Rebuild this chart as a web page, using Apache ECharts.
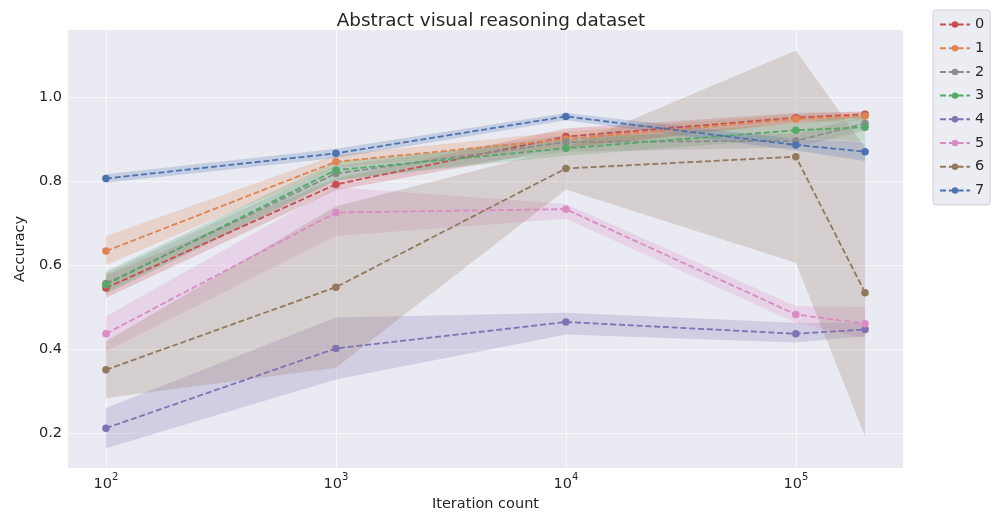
<!DOCTYPE html>
<html><head><meta charset="utf-8">
<script src="https://cdn.jsdelivr.net/npm/echarts@6/dist/echarts.min.js"></script>
<style>html,body{margin:0;padding:0;background:#fff}#chart{width:994px;height:514px}</style>
</head><body><div id="chart"></div>
<script>
// ---- data ----
const iterations = [100, 1000, 10000, 100000, 200000];
const seriesNames = ['0', '1', '2', '3', '4', '5', '6', '7'];
const colors = ['#C44E52', '#DD8452', '#8C8C8C', '#55A868', '#8172B3', '#DA8BC3', '#937860', '#4C72B0'];
const accMean = [
  [0.545, 0.792, 0.906, 0.951, 0.959],
  [0.633, 0.846, 0.900, 0.948, 0.955],
  [0.556, 0.818, 0.893, 0.896, 0.937],
  [0.553, 0.826, 0.878, 0.921, 0.928],
  [0.211, 0.401, 0.464, 0.436, 0.446],
  [0.436, 0.725, 0.733, 0.482, 0.460],
  [0.350, 0.547, 0.830, 0.858, 0.534],
  [0.806, 0.866, 0.954, 0.886, 0.870]
];
const ciLow = [
  [0.522, 0.778, 0.878, 0.940, 0.950],
  [0.600, 0.832, 0.880, 0.938, 0.945],
  [0.530, 0.800, 0.870, 0.880, 0.920],
  [0.534, 0.803, 0.860, 0.902, 0.895],
  [0.163, 0.327, 0.434, 0.415, 0.430],
  [0.394, 0.669, 0.710, 0.462, 0.425],
  [0.283, 0.355, 0.780, 0.605, 0.191],
  [0.796, 0.855, 0.945, 0.873, 0.848]
];
const ciHigh = [
  [0.575, 0.806, 0.925, 0.962, 0.966],
  [0.669, 0.862, 0.918, 0.958, 0.965],
  [0.580, 0.836, 0.910, 0.912, 0.955],
  [0.585, 0.846, 0.898, 0.938, 0.960],
  [0.259, 0.475, 0.486, 0.462, 0.462],
  [0.478, 0.785, 0.745, 0.502, 0.500],
  [0.418, 0.740, 0.880, 1.111, 0.880],
  [0.816, 0.877, 0.962, 0.900, 0.893]
];

// ---- build ----
const FONT = 'DejaVu Sans';
const TXT = '#262626';
const bandSeries = [];
const lineSeries = [];
seriesNames.forEach((name, i) => {
  const rows = iterations.map((x, j) => [x, ciLow[i][j], ciHigh[i][j]]);
  bandSeries.push({
    type: 'custom', name: 'band_' + name, silent: true, z: 1,
    data: rows,
    encode: { x: 0, y: [1, 2] },
    clip: true,
    renderItem: (params, api) => {
      if (params.dataIndex !== 0) return null;
      const upper = rows.map(r => api.coord([r[0], r[2]]));
      const lower = rows.map(r => api.coord([r[0], r[1]])).reverse();
      return {
        type: 'polygon',
        shape: { points: upper.concat(lower) },
        style: { fill: colors[i], opacity: 0.24 }
      };
    }
  });
  lineSeries.push({
    type: 'line', name: name,
    data: iterations.map((x, j) => [x, accMean[i][j]]),
    symbol: 'circle', symbolSize: 7.5,
    itemStyle: { color: colors[i] },
    lineStyle: { color: colors[i], width: 1.8, type: [6, 2.8] },
    z: 3
  });
});

const chart = echarts.init(document.getElementById('chart'));
chart.setOption({
  animation: false,
  backgroundColor: '#ffffff',
  textStyle: { fontFamily: FONT },
  title: {
    text: 'Abstract visual reasoning dataset',
    left: 486, top: 7, textAlign: 'center',
    textStyle: { fontFamily: FONT, fontSize: 18.4, fontWeight: 'normal', color: TXT }
  },
  legend: {
    data: seriesNames,
    orient: 'vertical',
    left: 933, top: 10,
    padding: [7, 6, 7, 6],
    itemGap: 8.7,
    itemWidth: 30, itemHeight: 8,
    backgroundColor: '#ECECF3',
    borderColor: '#CFCFD6', borderWidth: 1, borderRadius: 3,
    textStyle: { fontFamily: FONT, fontSize: 14.5, lineHeight: 14, color: TXT }
  },
  grid: {
    left: 68, right: 91, top: 30, bottom: 46,
    outerBoundsMode: 'none', containLabel: false,
    show: true, backgroundColor: '#EAEAF2', borderWidth: 0
  },
  xAxis: {
    type: 'log', logBase: 10,
    min: Math.pow(10, 1.835), max: Math.pow(10, 5.466),
    name: 'Iteration count', nameLocation: 'middle', nameGap: 29,
    nameTextStyle: { fontFamily: FONT, fontSize: 14.5, color: TXT },
    axisLine: { show: false }, axisTick: { show: false },
    splitLine: { show: true, showMinLine: false, showMaxLine: false, lineStyle: { color: 'rgba(255,255,255,0.65)', width: 1 } },
    minorSplitLine: { show: false },
    axisLabel: {
      showMinLabel: false, showMaxLabel: false, margin: 4,
      formatter: v => '{b|10}{s|' + Math.round(Math.log10(v)) + '}',
      rich: {
        b: { fontFamily: FONT, fontSize: 14.5, color: TXT, lineHeight: 20, verticalAlign: 'bottom' },
        s: { fontFamily: FONT, fontSize: 10, color: TXT, lineHeight: 20, verticalAlign: 'top' }
      }
    }
  },
  yAxis: {
    type: 'value', min: 0.116, max: 1.16,
    name: 'Accuracy', nameLocation: 'middle', nameGap: 33, nameRotate: 90,
    nameTextStyle: { fontFamily: FONT, fontSize: 14.5, color: TXT },
    axisLine: { show: false }, axisTick: { show: false },
    splitLine: { show: true, showMinLine: false, showMaxLine: false, lineStyle: { color: 'rgba(255,255,255,0.65)', width: 1 } },
    axisLabel: {
      showMinLabel: false, showMaxLabel: false, margin: 6,
      fontFamily: FONT, fontSize: 14.5, color: TXT,
      formatter: v => v.toFixed(1)
    }
  },
  series: bandSeries.concat(lineSeries)
});
</script>
</body></html>
